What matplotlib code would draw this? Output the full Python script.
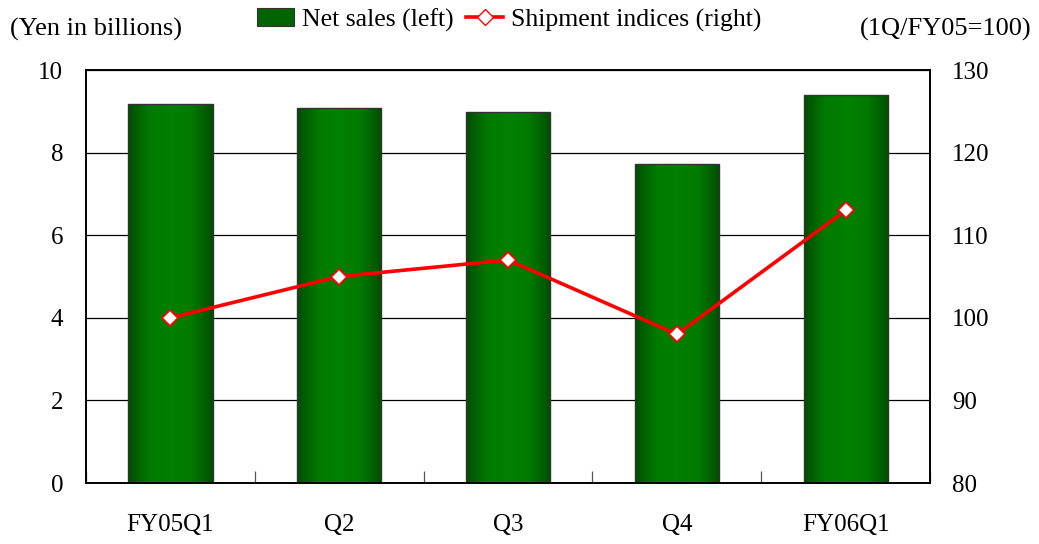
import matplotlib.pyplot as plt
import numpy as np
from matplotlib.patches import Rectangle
from matplotlib.lines import Line2D
from matplotlib.colors import LinearSegmentedColormap

plt.rcParams['font.family'] = ['Liberation Serif', 'DejaVu Serif']

quarters = ['FY05Q1', 'Q2', 'Q3', 'Q4', 'FY06Q1']
net_sales = [9.18, 9.08, 8.98, 7.72, 9.39]
shipment_idx = [100, 105, 107, 98, 113]

fig = plt.figure(figsize=(10.39, 5.44), dpi=100)
ax = fig.add_axes([0.0828, 0.1121, 0.8124, 0.7592])
ax2 = ax.twinx()

x = np.arange(len(quarters))
width = 0.5

# gradient bars: dark edges, lighter middle
cmap = LinearSegmentedColormap.from_list('g', ['#004d00', '#007a00', '#008000', '#007a00', '#004d00'])
grad = np.linspace(0, 1, 256).reshape(1, -1)
bars = ax.bar(x, net_sales, width=width, color='none', edgecolor='#333333', linewidth=1.0, zorder=3)
for b in bars:
    x0, w, h = b.get_x(), b.get_width(), b.get_height()
    im = ax.imshow(grad, cmap=cmap, aspect='auto', extent=[x0, x0 + w, 0, h], zorder=2)
    im.set_clip_path(b)

ax.set_xlim(-0.5, len(quarters) - 0.5)
ax.set_ylim(0, 10)
ax.set_yticks([0, 2, 4, 6, 8, 10])
ax.yaxis.grid(True, color='black', linewidth=0.9)
ax.set_axisbelow(True)
ax.tick_params(axis='y', length=0, labelsize=18, pad=16.5)
ax.set_xticks(x)
ax.set_xticklabels(quarters)
ax.tick_params(axis='x', length=0, labelsize=18, pad=22)
ax.set_xticks(np.arange(len(quarters) + 1) - 0.5, minor=True)
ax.tick_params(axis='x', which='minor', direction='in', length=9, width=0.9, color='#555555')

ax2.plot(x, shipment_idx, color='#ff0000', linewidth=2.6, marker='D', markersize=8,
         markerfacecolor='white', markeredgecolor='#ff0000', markeredgewidth=1.3, zorder=5)
ax2.set_ylim(80, 130)
ax2.set_yticks([80, 90, 100, 110, 120, 130])
ax2.tick_params(axis='y', length=0, labelsize=18, pad=16)

for a in (ax, ax2):
    for s in a.spines.values():
        s.set_linewidth(1.2)

fig.text(0.01, 0.945, '(Yen in billions)', fontsize=19, ha='left', va='center')
fig.text(0.993, 0.945, '(1Q/FY05=100)', fontsize=19, ha='right', va='center')

handles = [Rectangle((0, 0), 1, 1, facecolor='#006400', edgecolor='#333333', linewidth=0.8),
           Line2D([], [], color='#ff0000', linewidth=2.6, marker='D', markersize=8,
                  markerfacecolor='white', markeredgecolor='#ff0000')]
fig.legend(handles, ['Net sales (left)', 'Shipment indices (right)'], loc='center',
           bbox_to_anchor=(0.49, 0.963), ncol=2, frameon=False, fontsize=18.5,
           handlelength=1.45, handletextpad=0.3, columnspacing=0.5)

fig.savefig('out.png', dpi=100)
